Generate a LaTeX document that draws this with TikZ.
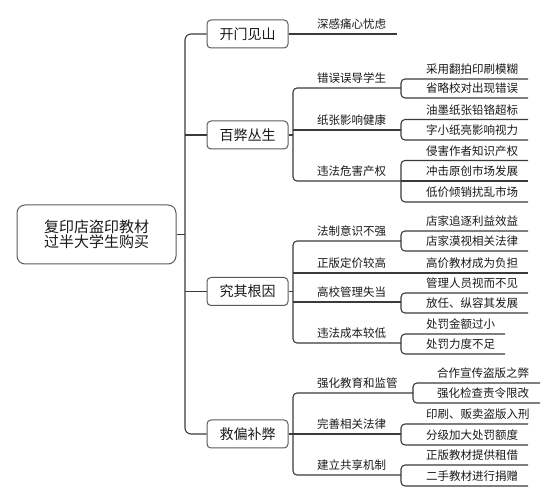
\documentclass[tikz,border=0pt]{standalone}
\usepackage{fontspec}
\newfontfamily\cjk{Noto Sans CJK SC}
\usetikzlibrary{positioning}

\definecolor{linegray}{RGB}{58,58,58}
\definecolor{boxgray}{RGB}{90,90,90}
\definecolor{inkgray}{RGB}{25,25,25}

\begin{document}
\begin{tikzpicture}[
    x=1pt, y=-1pt,
    % Node Styles
    rootbox/.style={rectangle, draw=boxgray, line width=1pt, rounded corners=8pt, minimum width=159pt, minimum height=59pt, align=center, text=inkgray, font=\cjk\fontsize{15}{15.5}\selectfont},
    topic/.style={rectangle, draw=boxgray, line width=1pt, rounded corners=4pt, minimum width=81pt, minimum height=28pt, inner sep=2pt, text=inkgray, font=\cjk\fontsize{14}{16}\selectfont},
    mid/.style={anchor=south west, inner xsep=0pt, inner ysep=5pt, text depth=0pt, text=inkgray, font=\cjk\fontsize{11.5}{13}\selectfont},
    leaf/.style={mid},
    link/.style={draw=linegray, line width=1.1pt}
]
\useasboundingbox (0,0) rectangle (557,502);

% --- 1. Columns of the tree ---
\coordinate (trunk) at (185,0);
\coordinate (fork) at (293,0);
\coordinate (joint) at (401,0);
\coordinate (jointB) at (413,0);
\coordinate (tipA) at (397,0);
\coordinate (tip) at (528,0);
\coordinate (tipB) at (540,0);
\coordinate (tipC) at (505,0);

% --- 2. Root and main topics ---
\node[rootbox] (root) at (96.5,234.5) {复印店盗印教材\\过半大学生购买};
\node[topic] (b1) at (247.5,34) {开门见山};
\node[topic] (b2) at (247.5,135) {百弊丛生};
\node[topic] (b3) at (247.5,291.5) {究其根因};
\node[topic] (b4) at (247.5,434) {救偏补弊};

% --- 3. Second level ---
\node[mid] (m11) at (317,34) {深感痛心忧虑};

\node[mid] (m21) at (317,88) {错误误导学生};
\node[mid] (m22) at (317,130) {纸张影响健康};
\node[mid] (m23) at (317,181) {违法危害产权};

\node[mid] (m31) at (317,241) {法制意识不强};
\node[mid] (m32) at (317,273) {正版定价较高};
\node[mid] (m33) at (317,302) {高校管理失当};
\node[mid] (m34) at (317,343) {违法成本较低};

\node[mid] (m41) at (317,393) {强化教育和监管};
\node[mid] (m42) at (317,434) {完善相关法律};
\node[mid] (m43) at (317,475) {建立共享机制};

% --- 4. Leaves ---
\node[leaf] (l211) at (426,79) {采用翻拍印刷模糊};
\node[leaf] (l212) at (426,98) {省略校对出现错误};
\node[leaf] (l221) at (426,119.5) {油墨纸张铅铬超标};
\node[leaf] (l222) at (426,140) {字小纸亮影响视力};
\node[leaf] (l231) at (426,160.5) {侵害作者知识产权};
\node[leaf] (l232) at (426,181) {冲击原创市场发展};
\node[leaf] (l233) at (426,202) {低价倾销扰乱市场};

\node[leaf] (l311) at (426,231) {店家追逐利益效益};
\node[leaf] (l312) at (426,251) {店家漠视相关法律};
\node[leaf] (l321) at (426,273) {高价教材成为负担};
\node[leaf] (l331) at (426,293) {管理人员视而不见};
\node[leaf] (l332) at (426,313) {放任、纵容其发展};
\node[leaf] (l341) at (426,334) {处罚金额过小};
\node[leaf] (l342) at (426,354) {处罚力度不足};

\node[leaf] (l411) at (437,383) {合作宣传盗版之弊};
\node[leaf] (l412) at (437,403) {强化检查责令限改};
\node[leaf] (l421) at (426,424) {印刷、贩卖盗版入刑};
\node[leaf] (l422) at (426,445) {分级加大处罚额度};
\node[leaf] (l431) at (426,465) {正版教材提供租借};
\node[leaf] (l432) at (426,486) {二手教材进行捐赠};

% --- Edges ---
% Root to topics
\draw[link] (root.east) -- (root.east -| trunk);
\draw[link, rounded corners=6pt] (b1.west) -- (b1.west -| trunk) -- (b4.west -| trunk) -- (b4.west);
\draw[link] (b2.west -| trunk) -- (b2.west);
\draw[link] (b3.west -| trunk) -- (b3.west);

% Topic 1
\draw[link] (b1.east) -- (m11.south -| tipA);

% Topic 2
\draw[link] (b2.east) -- (b2.east -| fork);
\draw[link, rounded corners=4pt] (m21.south -| joint) -- (m21.south -| fork) -- (m23.south -| fork) -- (m23.south -| joint);
\draw[link] (m22.south -| fork) -- (m22.south -| joint);
\draw[link, rounded corners=4pt] (l211.south -| tip) -- (l211.south -| joint) -- (l212.south -| joint) -- (l212.south -| tip);
\draw[link, rounded corners=4pt] (l221.south -| tip) -- (l221.south -| joint) -- (l222.south -| joint) -- (l222.south -| tip);
\draw[link, rounded corners=4pt] (l231.south -| tip) -- (l231.south -| joint) -- (l233.south -| joint) -- (l233.south -| tip);
\draw[link] (l232.south -| joint) -- (l232.south -| tip);

% Topic 3
\draw[link] (b3.east) -- (b3.east -| fork);
\draw[link, rounded corners=4pt] (m31.south -| joint) -- (m31.south -| fork) -- (m34.south -| fork) -- (m34.south -| joint);
\draw[link] (m32.south -| fork) -- (l321.south -| tip);
\draw[link] (m33.south -| fork) -- (m33.south -| joint);
\draw[link, rounded corners=4pt] (l311.south -| tip) -- (l311.south -| joint) -- (l312.south -| joint) -- (l312.south -| tip);
\draw[link, rounded corners=4pt] (l331.south -| tip) -- (l331.south -| joint) -- (l332.south -| joint) -- (l332.south -| tip);
\draw[link, rounded corners=4pt] (l341.south -| tipC) -- (l341.south -| joint) -- (l342.south -| joint) -- (l342.south -| tipC);

% Topic 4
\draw[link] (b4.east) -- (b4.east -| fork);
\draw[link, rounded corners=4pt] (m41.south -| jointB) -- (m41.south -| fork) -- (m43.south -| fork) -- (m43.south -| joint);
\draw[link] (m42.south -| fork) -- (m42.south -| joint);
\draw[link, rounded corners=4pt] (l411.south -| tipB) -- (l411.south -| jointB) -- (l412.south -| jointB) -- (l412.south -| tipB);
\draw[link, rounded corners=4pt] (l421.south -| tip) -- (l421.south -| joint) -- (l422.south -| joint) -- (l422.south -| tip);
\draw[link, rounded corners=4pt] (l431.south -| tip) -- (l431.south -| joint) -- (l432.south -| joint) -- (l432.south -| tip);

\end{tikzpicture}
\end{document}
